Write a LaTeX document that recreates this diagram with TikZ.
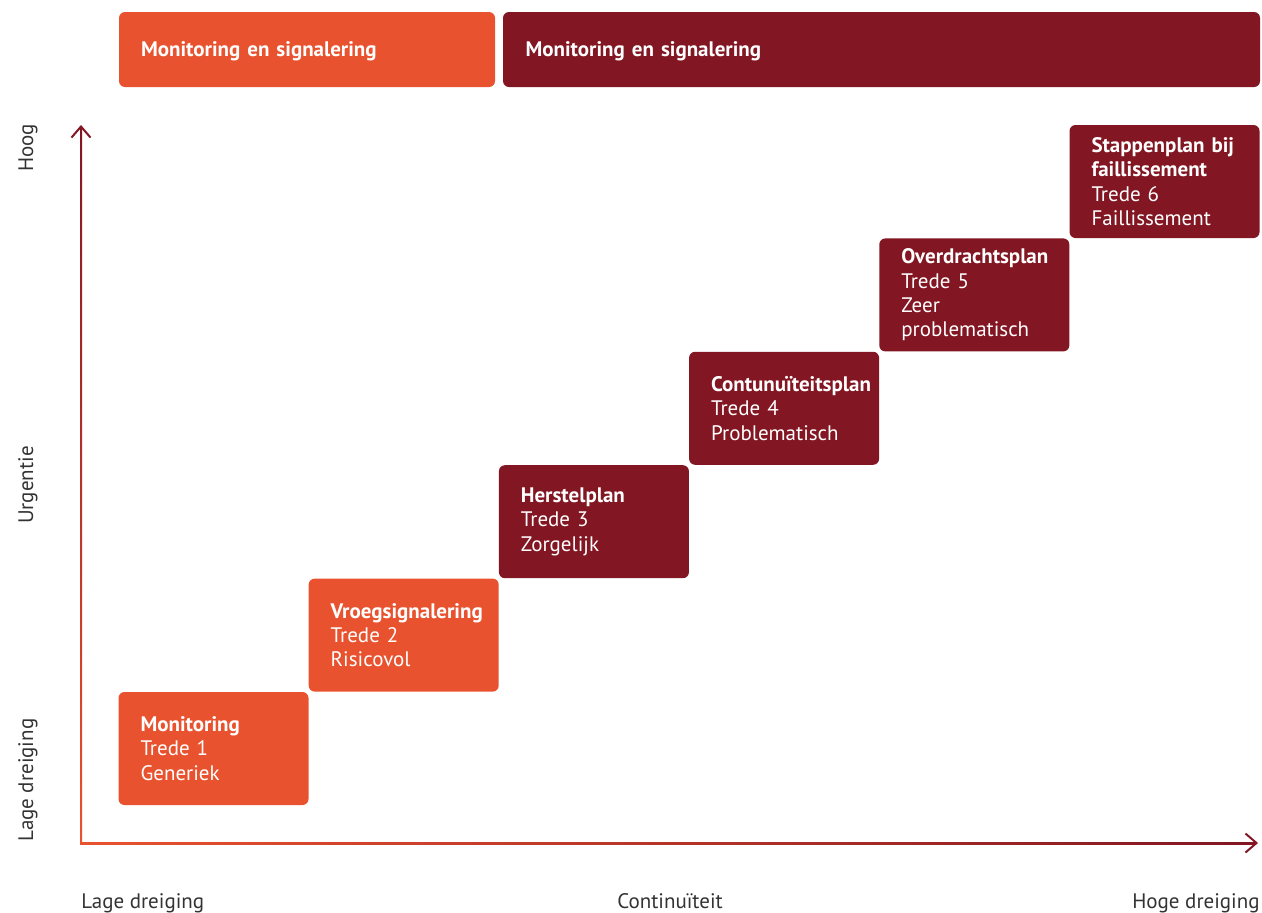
\documentclass[tikz,border=0pt]{standalone}
\usepackage{fontspec}
\setmainfont{PT Sans}
\usetikzlibrary{arrows.meta, positioning, calc}
\definecolor{oranje}{HTML}{E9522E}
\definecolor{bordeaux}{HTML}{821622}
\definecolor{labelgrey}{HTML}{333333}
\tikzset{txt/.style = {font=\fontsize{10.5}{12.2}\selectfont}}
\tikzset{banner/.style = {rectangle, rounded corners=3pt, minimum height=37.5pt, inner xsep=11pt, text depth=0pt, align=left, text=white, font=\fontsize{10.5}{12.2}\selectfont\bfseries}}
\tikzset{stepbox/.style = {rectangle, rounded corners=3pt, minimum width=95pt, minimum height=56.5pt, text width=73pt, inner xsep=11pt, align=left, text=white, txt}}
\tikzset{steplow/.style = {stepbox, fill=oranje}}
\tikzset{stephigh/.style = {stepbox, fill=bordeaux}}
\tikzset{axlabel/.style = {txt, text=labelgrey, inner sep=0pt}}
\tikzset{axtip/.style = {bordeaux, line width=1pt, -{Straight Barb[length=5.5pt, width=9.5pt, line width=1pt]}}}

\begin{document}
\begin{tikzpicture}[x=0.5pt, y=-0.5pt, node distance=95.1pt]
	\useasboundingbox (0,0) rectangle (1262,912);

	% banners
	\node (ban1) [banner, fill=oranje, minimum width=188pt, text width=166pt] 		at (307,49.5) 	{Monitoring en signalering};
	\node (ban2) [banner, fill=bordeaux, minimum width=378.5pt, text width=356pt] 	at (881.5,49.5) {Monitoring en signalering};

	% treden
	\node (s1) [steplow] at (213.5,748.5) 				{\textbf{Monitoring}\\Trede 1\\Generiek};
	\node (s2) [steplow, right of=s1, yshift=56.7pt] 	{\textbf{Vroegsignalering}\\Trede 2\\Risicovol};
	\node (s3) [stephigh, right of=s2, yshift=56.7pt] 	{\textbf{Herstelplan}\\Trede 3\\Zorgelijk};
	\node (s4) [stephigh, right of=s3, yshift=56.7pt] 	{\textbf{Contunuïteitsplan}\\Trede 4\\Problematisch};
	\node (s5) [stephigh, right of=s4, yshift=56.7pt] 	{\textbf{Overdrachtsplan}\\Trede 5\\Zeer\\problematisch};
	\node (s6) [stephigh, right of=s5, yshift=56.7pt] 	{\textbf{Stappenplan bij}\\\textbf{faillissement}\\Trede 6\\Faillissement};

	% assen
	\coordinate (origin) at (81,843);
	\coordinate (ytop) at (81,125);
	\coordinate (xend) at (1258,843);
	\shade[bottom color=oranje, top color=bordeaux] ($(origin)+(-1,1)$) rectangle ($(ytop)+(1,4)$);
	\shade[left color=oranje, right color=bordeaux] ($(origin)+(-1,-1)$) rectangle ($(xend)+(-4,1)$);
	\draw [axtip] ($(ytop)+(0,6)$) -- (ytop);
	\draw [axtip] ($(xend)+(-6,0)$) -- (xend);

	% labels
	\node (yhigh) [axlabel, rotate=90, anchor=base] at (33,148) {Hoog};
	\node (ymid) [axlabel, rotate=90, anchor=base] at (33,485) {Urgentie};
	\node (ylow) [axlabel, rotate=90, anchor=base] at (33,780) {Lage dreiging};
	\node (xlow) [axlabel, anchor=base west] at (81,908) {Lage dreiging};
	\node (xmid) [axlabel, anchor=base] at (670,908) {Continuïteit};
	\node (xhigh) [axlabel, anchor=base east] at (1260,908) {Hoge dreiging};
\end{tikzpicture}
\end{document}
